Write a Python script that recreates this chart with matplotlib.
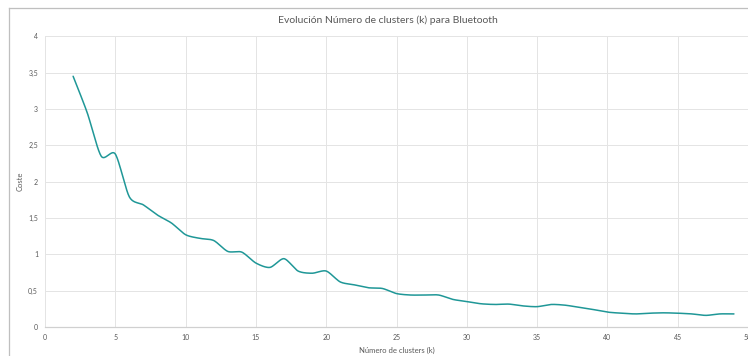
import numpy as np
import matplotlib
matplotlib.use("Agg")
import matplotlib.pyplot as plt
from matplotlib.ticker import FuncFormatter, MultipleLocator
from matplotlib.lines import Line2D

plt.rcParams['font.family'] = ['Lato', 'DejaVu Sans']

# data
clusters = [2, 3, 4, 5, 6, 7, 8, 9, 10, 11, 12, 13, 14, 15, 16, 17, 18, 19, 20,
            21, 22, 23, 24, 25, 26, 27, 28, 29, 30, 31, 32, 33, 34, 35, 36, 37,
            38, 39, 40, 41, 42, 43, 44, 45, 46, 47, 48, 49]
coste = [3.45, 2.95, 2.35, 2.38, 1.79, 1.68, 1.54, 1.43, 1.27, 1.22, 1.19, 1.04,
         1.03, 0.88, 0.82, 0.94, 0.77, 0.74, 0.77, 0.62, 0.58, 0.54, 0.53, 0.46,
         0.44, 0.44, 0.44, 0.38, 0.35, 0.32, 0.31, 0.315, 0.29, 0.28, 0.31, 0.30,
         0.27, 0.24, 0.205, 0.19, 0.18, 0.19, 0.195, 0.19, 0.18, 0.16, 0.18, 0.18]

title = "Evolución Número de clusters (k) para Bluetooth"
xlabel = "Número de clusters (k)"
ylabel = "Coste"

TXT = "#595959"
GRID = "#e4e4e4"
LINE = "#1f9797"


def smooth(x, y, n=20, tens=0.8):
    # catmull-rom style smoothing, like excel's "smoothed line"
    x = np.asarray(x, float)
    y = np.asarray(y, float)
    px = np.concatenate([[2 * x[0] - x[1]], x, [2 * x[-1] - x[-2]]])
    py = np.concatenate([[2 * y[0] - y[1]], y, [2 * y[-1] - y[-2]]])
    xs, ys = [], []
    t = np.linspace(0, 1, n, endpoint=False)
    h00 = 2 * t ** 3 - 3 * t ** 2 + 1
    h10 = t ** 3 - 2 * t ** 2 + t
    h01 = -2 * t ** 3 + 3 * t ** 2
    h11 = t ** 3 - t ** 2
    for i in range(1, len(px) - 2):
        for arr, out in ((px, xs), (py, ys)):
            p0, p1, p2, p3 = arr[i - 1], arr[i], arr[i + 1], arr[i + 2]
            m1 = tens * 0.5 * (p2 - p0)
            m2 = tens * 0.5 * (p3 - p1)
            out.extend(h00 * p1 + h10 * m1 + h01 * p2 + h11 * m2)
    xs.append(x[-1])
    ys.append(y[-1])
    return np.array(xs), np.array(ys)


fig = plt.figure(figsize=(7.48, 3.56), dpi=100)
ax = fig.add_axes([45 / 748, 1 - 327 / 356, 703 / 748, (327 - 36.3) / 356])

sx, sy = smooth(clusters, coste)
ax.plot(sx, sy, color=LINE, lw=1.1, solid_capstyle='round')

ax.set_xlim(0, 50)
ax.set_ylim(0, 4)
ax.xaxis.set_major_locator(MultipleLocator(5))
ax.yaxis.set_major_locator(MultipleLocator(0.5))
ax.yaxis.set_major_formatter(FuncFormatter(lambda v, p: f"{v:g}".replace('.', ',')))
ax.grid(True, color=GRID, lw=0.7)
ax.set_axisbelow(True)
for s in ['top', 'right', 'left']:
    ax.spines[s].set_visible(False)
ax.spines['bottom'].set_color("#d0d0d0")
ax.spines['bottom'].set_linewidth(0.9)
ax.tick_params(length=0, labelsize=5, colors=TXT, pad=5)

ax.set_xlabel(xlabel, fontsize=5.5, color=TXT, labelpad=4)
ax.set_ylabel(ylabel, fontsize=5.5, color=TXT, labelpad=3)

fig.text(388 / 748, 1 - 20 / 356, title, ha='center', va='center', fontsize=7.5, color=TXT)

# chart frame (cropped on right/bottom)
fig.add_artist(Line2D([9 / 748, 1.0], [1 - 8 / 356] * 2, transform=fig.transFigure, color="#bfbfbf", lw=0.9))
fig.add_artist(Line2D([9 / 748] * 2, [0.0, 1 - 8 / 356], transform=fig.transFigure, color="#bfbfbf", lw=0.9))

fig.savefig("out.png", dpi=100)
